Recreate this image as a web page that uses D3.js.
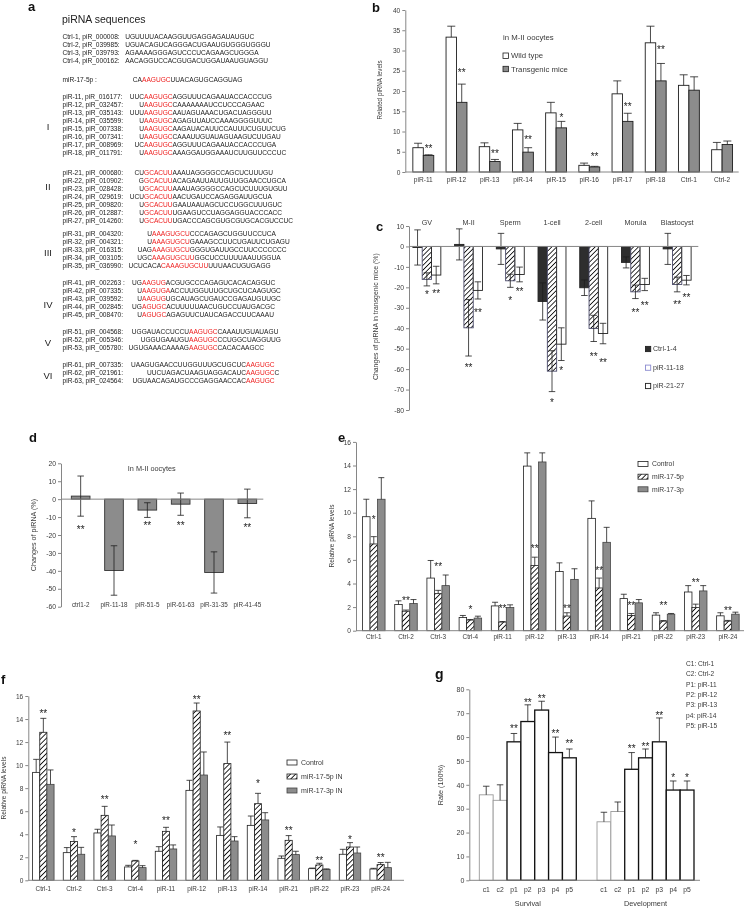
<!DOCTYPE html>
<html><head><meta charset="utf-8">
<script src="https://cdn.jsdelivr.net/npm/d3@7"></script>
<style>body{margin:0;background:#fff}svg{display:block;will-change:transform}</style>
</head><body>
<script>
// ================= DATA =================
// Panel a: piRNA sequences
const aCtrlRows = [
  ["Ctrl-1, piR_000008:", "UGUUUUACAAGGUUGAGGAGAUAUGUC"],
  ["Ctrl-2, piR_039985:", "UGUACAGUCAGGGACUGAAUGUGGGUGGGU"],
  ["Ctrl-3, piR_039793:", "AGAAAAGGGAGUCCCUCAGAAGCUGGGA"],
  ["Ctrl-4, piR_000162:", "AACAGGUCCACGUGACUGGAUAAUGUAGGU"]
];
const aMirRow = ["miR-17-5p :", "CA", "AAGUGC", "UUACAGUGCAGGUAG"];
const aGroupNames = ["I", "II", "III", "IV", "V", "VI"];
const aGroupRows = [
  [["piR-11, piR_016177:", "UUC", "AAGUGC", "AGGUUUCAGAAUACCACCCUG"],
   ["piR-12, piR_032457:", "U", "AAGUGC", "CAAAAAAAUCCUCCCAGAAC"],
   ["piR-13, piR_035143:", "UUU", "AAGUGC", "AAUAGUAAACUGACUAGGGUU"],
   ["piR-14, piR_035599:", "U", "AAGUGC", "AGAGUUAUCCAAAGGGGUUUC"],
   ["piR-15, piR_007338:", "U", "AAGUGC", "AAGAUACAUUCCAUUUCUGUUCUG"],
   ["piR-16, piR_007341:", "U", "AAGUGC", "CAAAUUGUAUAGUAAGUCUUGAU"],
   ["piR-17, piR_008969:", "UC", "AAGUGC", "AGGUUUCAGAAUACCACCCUGA"],
   ["piR-18, piR_011791:", "U", "AAGUGC", "AAAGGAUGGAAAUCUUGUUCCCUC"]],
  [["piR-21, piR_000680:", "CU", "GCACUU", "AAAUAGGGGCCAGCUCUUUGU"],
   ["piR-22, piR_010902:", "G", "GCACUU", "ACAGAAUUAUUGUUGGAACCUGCA"],
   ["piR-23, piR_028428:", "U", "GCACUU", "AAAUAGGGGCCAGCUCUUUGUGUU"],
   ["piR-24, piR_029619:", "UCU", "GCACUU", "AACUGAUCCAGAGGAUUGCUA"],
   ["piR-25, piR_009820:", "U", "GCACUU", "GAAUAAUAGCUCCUGGCUUUGUC"],
   ["piR-26, piR_012887:", "U", "GCACUU", "UGAAGUCCUAGGAGGUACCCACC"],
   ["piR-27, piR_014260:", "U", "GCACUU", "UGACCCAGCGUGCGUGCACGUCCUC"]],
  [["piR-31, piR_004320:", "U", "AAAGUGCU", "CCCAGAGCUGGUUCCUCA"],
   ["piR-32, piR_004321:", "U", "AAAGUGCU", "GAAAGCCUUCUGAUUCUGAGU"],
   ["piR-33, piR_016315:", "UAG", "AAAGUGCU", "GGGUGAUUGCCUUCCCCCCC"],
   ["piR-34, piR_003105:", "UGC", "AAAGUGCUU", "GGCUCCUUUUAAUUGGUA"],
   ["piR-35, piR_036990:", "UCUCACA", "CAAAGUGCUU", "UUUAACUGUGAGG"]],
  [["piR-41, piR_002263 :", "UG", "AAGUG", "ACGUGCCCAGAGUCACACAGGUC"],
   ["piR-42, piR_007335:", "U", "AAGUGA", "ACCUUGGUUUGCUGCUCAAGUGC"],
   ["piR-43, piR_039592:", "U", "AAGUG", "UGCAUAGCUGAUCCGAGAUGUUGC"],
   ["piR-44, piR_002845:", "UG", "AGUGC", "ACUUUUUAACUGUCCUAUGACGC"],
   ["piR-45, piR_008470:", "U", "AGUGC", "AGAGUUCUAUCAGACCUUCAAAU"]],
  [["piR-51, piR_004568:", "UGGAUACCUCCU", "AAGUGC", "CAAAUUGUAUAGU"],
   ["piR-52, piR_005346:", "UGGUGAAUGU", "AAGUGC", "CCUGGCUAGGUUG"],
   ["piR-53, piR_005780:", "UGUGAAACAAAAG", "AAGUGC", "CACACAAGCC"]],
  [["piR-61, piR_007335:", "UAAGUGAACCUUGGUUUGCUGCUC", "AAGUGC", ""],
   ["piR-62, piR_021961:", "UUCUAGACUAAGUAGGACAUC", "AAGUGC", "C"],
   ["piR-63, piR_024564:", "UGUAACAGAUGCCCGAGGAACCAC", "AAGUGC", ""]]
];

// Panel b
const bCats = ["piR-11","piR-12","piR-13","piR-14","piR-15","piR-16","piR-17","piR-18","Ctrl-1","Ctrl-2"];
const bWild = [6.0, 33.3, 6.25, 10.4, 14.6, 1.65, 19.3, 31.9, 21.4, 5.5];
const bWildErr = [1.1, 2.7, 0.95, 1.6, 2.6, 0.55, 3.2, 4.1, 2.6, 1.8];
const bTrans = [4.1, 17.2, 2.6, 4.9, 10.9, 1.25, 12.5, 22.5, 20.2, 6.8];
const bTransErr = [0.15, 4.5, 0.5, 1.1, 1.6, 0.15, 2.0, 4.3, 3.3, 0.85];
const bStars = ["**","**","**","**","*","**","**","**","",""];
const bStarY = [6.3, 25.2, 5.2, 8.5, 14.1, 4.5, 16.7, 30.9, null, null];
const bTicks = [0,5,10,15,20,25,30,35,40];

// Panel c
const cStages = ["GV","M-II","Sperm","1-cell","2-cell","Morula","Blastocyst"];
const cCtrl = [-0.5, 1.0, -1.2, -26.9, -20.2, -7.8, -1.2];
const cCtrlErr = [8.6, 7.6, 7.6, 9.1, 3.8, 2.7, 7.6];
const cPi11 = [-16.1, -39.8, -16.8, -61, -40.1, -22.2, -18.6];
const cPi11Err = [3.2, 13.8, 3.2, 10, 6.4, 3.3, 3.6];
const cPi21 = [-14, -21.5, -13.7, -47.8, -42.6, -18.6, -16.5];
const cPi21Err = [4.3, 4.2, 3.6, 8, 5, 3, 2.3];
const cStar11 = ["*","**","*","*","**","**","**"];
const cStar11Y = [-22.2, -58, -25.4, -75.2, -52.8, -31.1, -27.4];
const cStar21 = ["**","**","**","*","**","**","**"];
const cStar21Y = [-21.8, -31.1, -21, -59.4, -55.6, -27.6, -23.8];
const cSeries = ["Ctrl-1-4","piR-11-18","piR-21-27"];
const cTicks = [10,0,-10,-20,-30,-40,-50,-60,-70,-80];

// Panel d
const dCats = ["ctrl1-2","piR-11-18","piR-51-5","piR-61-63","piR-31-35","piR-41-45"];
const dVals = [1.7, -39.8, -6.1, -2.8, -40.9, -2.4];
const dErr = [11.2, 13.8, 4.1, 6.2, 11.5, 8];
const dStars = ["**","","**","**","","**"];
const dStarY = [-15.8, null, -13.2, -13.2, null, -14.5];
const dTicks = [20,10,0,-10,-20,-30,-40,-50,-60];

// Panel e
const eCats = ["Ctrl-1","Ctrl-2","Ctrl-3","Ctrl-4","piR-11","piR-12","piR-13","piR-14","piR-21","piR-22","piR-23","piR-24"];
const eSeries = ["Control","miR-17-5p","miR-17-3p"];
const eControl = [9.66, 2.22, 4.46, 1.12, 2.1, 13.95, 5.02, 9.52, 2.72, 1.32, 3.28, 1.26];
const eControlErr = [1.48, 0.31, 1.49, 0.17, 0.31, 1.12, 0.73, 1.48, 0.37, 0.2, 0.54, 0.26];
const e5p = [7.35, 1.65, 3.14, 0.9, 0.73, 5.53, 1.24, 3.62, 1.29, 0.81, 1.96, 0.81];
const e5pErr = [0.62, 0.1, 0.28, 0.05, 0.05, 0.7, 0.28, 0.84, 0.17, 0.05, 0.29, 0.06];
const e3p = [11.14, 2.3, 3.82, 1.07, 1.96, 14.3, 4.35, 7.49, 2.36, 1.4, 3.37, 1.4];
const e3pErr = [1.83, 0.34, 0.9, 0.16, 0.23, 0.77, 0.9, 1.27, 0.28, 0.06, 0.45, 0.17];
const eStars = ["*","**","**","*","**","**","**","**","**","**","**","**"];
const eStarY = [9.6, 2.72, 5.6, 2.0, 2.08, 7.13, 2.1, 5.3, 2.3, 2.3, 4.32, 1.88];
const eTicks = [0,2,4,6,8,10,12,14,16];

// Panel f
const fSeries = ["Control","miR-17-5p IN","miR-17-3p IN"];
const fControl = [9.37, 2.4, 4.11, 1.16, 2.52, 7.81, 3.9, 4.77, 1.91, 1.01, 2.26, 0.98];
const fControlErr = [1.13, 0.44, 0.32, 0.14, 0.4, 0.87, 0.73, 0.81, 0.2, 0.05, 0.43, 0.06];
const f5p = [12.85, 3.36, 5.64, 1.68, 4.25, 14.7, 10.13, 6.65, 3.47, 1.33, 2.89, 1.36];
const f5pErr = [1.21, 0.43, 0.78, 0.05, 0.35, 0.69, 1.87, 0.9, 0.41, 0.15, 0.38, 0.18];
const f3p = [8.33, 2.26, 3.85, 1.1, 2.72, 9.14, 3.41, 5.24, 2.23, 0.95, 2.37, 1.1];
const f3pErr = [1.25, 0.6, 0.95, 0.17, 0.35, 2.0, 0.38, 0.63, 0.29, 0.04, 0.52, 0.46];
const fStars = ["**","*","**","*","**","**","**","*","**","**","*","**"];
const fStarY = [14.7, 4.37, 7.18, 3.33, 5.38, 15.9, 12.76, 8.62, 4.51, 1.91, 3.7, 2.2];

// Panel g
const gGroups = ["Survival","Development"];
const gCats = ["c1","c2","p1","p2","p3","p4","p5"];
const gSurvival = [35.8, 33.5, 58, 66.5, 71.3, 53.5, 51.3];
const gSurvivalErr = [3.6, 6.5, 3.5, 7, 3.7, 6.5, 3.7];
const gDevelopment = [24.5, 28.8, 46.5, 51.3, 58, 37.8, 37.8];
const gDevelopmentErr = [4, 4, 7, 3.7, 10, 3.8, 3.8];
const gStarsS = ["","","**","**","**","**","**"];
const gStarYS = [null, null, 64.4, 75.6, 77, 62.6, 58.4];
const gStarsD = ["","","**","**","**","*","*"];
const gStarYD = [null, null, 56, 57, 70, 44.1, 44.1];
const gLegend = ["C1: Ctrl-1","C2: Ctrl-2","P1: piR-11","P2: piR-12","P3: piR-13","p4: piR-14","P5: piR-15"];
const gTicks = [0,10,20,30,40,50,60,70,80];

// ================= DRAWING =================
const W = 744, H = 909;
const TXT = "#3a3a3a", AX = "#868686", BAR = "#1e1e1e", GRAY = "#8c8c8c";
const svg = d3.select("body").append("svg").attr("width", W).attr("height", H)
  .attr("font-family", "'Liberation Sans', Arial, sans-serif");
svg.append("rect").attr("width", W).attr("height", H).attr("fill", "#fff");
const defs = svg.append("defs");
function hatch(id, size, sw) {
  const p = defs.append("pattern").attr("id", id).attr("patternUnits", "userSpaceOnUse")
    .attr("width", size).attr("height", size).attr("patternTransform", "rotate(45)");
  p.append("rect").attr("width", size).attr("height", size).attr("fill", "#fff");
  p.append("line").attr("x1", 0).attr("y1", 0).attr("x2", 0).attr("y2", size)
    .attr("stroke", "#000").attr("stroke-width", sw);
}
hatch("hatchC", 3.4, 1.6);
hatch("hatchE", 3.6, 1.7);

function panelLetter(x, y, t) {
  svg.append("text").attr("x", x).attr("y", y).attr("font-size", 13).attr("font-weight", "bold")
    .attr("fill", "#111").text(t);
}
function yAxis(y, x, ticks, fs) {
  const ax = svg.append("g").attr("transform", `translate(${x},0)`)
    .call(d3.axisLeft(y).tickValues(ticks).tickSize(3).tickSizeOuter(0).tickPadding(2).tickFormat(d => String(d)));
  ax.attr("font-family", null).attr("font-size", fs);
  ax.select(".domain").attr("stroke", AX);
  ax.selectAll(".tick line").attr("stroke", AX);
  ax.selectAll(".tick text").attr("fill", TXT);
  return ax;
}
function hline(x1, x2, y) {
  svg.append("line").attr("x1", x1).attr("x2", x2).attr("y1", y).attr("y2", y).attr("stroke", AX).attr("stroke-width", 1);
}
function yLabel(x, y, t, fs) {
  svg.append("text").attr("transform", `translate(${x},${y}) rotate(-90)`).attr("text-anchor", "middle")
    .attr("dy", "0.35em").attr("font-size", fs).attr("fill", TXT).text(t);
}
function label(x, y, t, fs, anchor) {
  return svg.append("text").attr("x", x).attr("y", y).attr("text-anchor", anchor || "middle")
    .attr("dy", "0.35em").attr("font-size", fs).attr("fill", TXT).text(t);
}
function errUp(g, cx, y, v, e, cap) {
  g.append("line").attr("x1", cx).attr("x2", cx).attr("y1", y(v)).attr("y2", y(v + e)).attr("stroke", BAR).attr("stroke-width", 0.8);
  g.append("line").attr("x1", cx - cap / 2).attr("x2", cx + cap / 2).attr("y1", y(v + e)).attr("y2", y(v + e)).attr("stroke", BAR).attr("stroke-width", 0.8);
}
function errBoth(g, cx, y, v, e, cap) {
  g.append("line").attr("x1", cx).attr("x2", cx).attr("y1", y(v - e)).attr("y2", y(v + e)).attr("stroke", BAR).attr("stroke-width", 0.8);
  [v - e, v + e].forEach(t => g.append("line").attr("x1", cx - cap / 2).attr("x2", cx + cap / 2)
    .attr("y1", y(t)).attr("y2", y(t)).attr("stroke", BAR).attr("stroke-width", 0.8));
}
function star(g, cx, y, v, s) {
  if (!s) return;
  g.append("text").attr("x", cx).attr("y", y(v)).attr("dy", "0.58em").attr("text-anchor", "middle")
    .attr("font-size", 10).attr("fill", "#222").text(s);
}
function barRect(g, x, w, y, v, fill, stroke, sw) {
  const y0 = y(0), yv = y(v);
  return g.append("rect").attr("x", x).attr("width", w).attr("y", Math.min(y0, yv))
    .attr("height", Math.abs(y0 - yv)).attr("fill", fill).attr("stroke", stroke).attr("stroke-width", sw || 0.9);
}

// ---------- Panel a ----------
panelLetter(28, 10.5, "a");
svg.append("text").attr("x", 62).attr("y", 22.5).attr("font-size", 10.5).attr("fill", "#222").text("piRNA sequences");
const ga = svg.append("g").attr("font-size", 6.6).attr("fill", "#222");
const tmp = ga.append("text").attr("x", -100).attr("y", -100);
function measure(s) { tmp.text(s); return s ? tmp.node().getComputedTextLength() : 0; }
const aX = 62.5, aGap = 5.5;
function aRow(yc, lab, pre, motif, post, alignX) {
  const y = yc + 2.4;
  ga.append("text").attr("x", aX).attr("y", y).text(lab);
  let sx = aX + measure(lab) + aGap;
  if (alignX != null) sx = Math.max(sx, alignX - measure(pre));
  const t = ga.append("text").attr("x", sx).attr("y", y);
  t.append("tspan").text(pre);
  if (motif) t.append("tspan").attr("fill", "#ee1c1c").text(motif);
  if (post) t.append("tspan").text(post);
}
aCtrlRows.forEach((r, i) => aRow(36.5 + 8 * i, r[0], r[1], "", "", null));
aRow(79.5, aMirRow[0], aMirRow[1], aMirRow[2], aMirRow[3], 142);
const aGroupStart = [96.7, 172.7, 234, 282.5, 331.5, 364.3];
const aAlign = [144, 144, 152, 142, 189, 246];
const aLabelRow = [3.75, 1.75, 2.3, 2.7, 1.4, 1.4];
aGroupRows.forEach((rows, gi) => {
  rows.forEach((r, i) => aRow(aGroupStart[gi] + 8 * i, r[0], r[1], r[2], r[3], aAlign[gi]));
  svg.append("text").attr("x", 48).attr("y", aGroupStart[gi] + aLabelRow[gi] * 8).attr("dy", "0.36em")
    .attr("text-anchor", "middle").attr("font-size", 9.5).attr("fill", "#222").text(aGroupNames[gi]);
});
tmp.remove();

// ---------- Panel b ----------
panelLetter(372, 11.7, "b");
const bx0 = d3.scaleBand().domain(bCats).range([406.7, 738.7]).paddingInner(0.37).paddingOuter(0.185);
const bx1 = d3.scaleBand().domain(["wt", "tg"]).range([0, bx0.bandwidth()]);
const by = d3.scaleLinear().domain([0, 40]).range([172, 10]);
const gb = svg.append("g");
bCats.forEach((c, i) => {
  const x = bx0(c), w = bx1.bandwidth();
  barRect(gb, x + bx1("wt"), w, by, bWild[i], "#fff", BAR);
  barRect(gb, x + bx1("tg"), w, by, bTrans[i], GRAY, BAR);
  errUp(gb, x + bx1("wt") + w / 2, by, bWild[i], bWildErr[i], 8);
  errUp(gb, x + bx1("tg") + w / 2, by, bTrans[i], bTransErr[i], 8);
  if (bStarY[i] != null) star(gb, x + bx1("tg") + w / 2, by, bStarY[i], bStars[i]);
  label(x + bx0.bandwidth() / 2, 180, c, 6.6);
});
hline(405.3, 738.7, by(0));
yAxis(by, 405.3, bTicks, 6.6);
yLabel(380, 90, "Related piRNA levels", 6.3);
svg.append("text").attr("x", 503).attr("y", 37.3).attr("dy", "0.35em").attr("font-size", 7.8).attr("fill", TXT).text("in M-II oocytes");
[["Wild type", "#fff", 55.7], ["Transgenic mice", GRAY, 69]].forEach(d => {
  svg.append("rect").attr("x", 503).attr("y", d[2] - 2.7).attr("width", 5.4).attr("height", 5.4).attr("fill", d[1]).attr("stroke", BAR).attr("stroke-width", 0.8);
  label(511, d[2], d[0], 7.8, "start");
});

// ---------- Panel c ----------
panelLetter(376, 230.5, "c");
const cx0 = d3.scaleBand().domain(cStages).range([406, 698]).paddingInner(0.33).paddingOuter(0.165);
const cx1 = d3.scaleBand().domain(cSeries).range([0, cx0.bandwidth()]);
const cy = d3.scaleLinear().domain([-80, 10]).range([410, 226]);
const gc = svg.append("g");
const cFill = ["#2e2e2e", "url(#hatchC)", "#fff"];
const cStroke = ["#222", "#4a4a6a", "#222"];
const cVals = [cCtrl, cPi11, cPi21], cErrs = [cCtrlErr, cPi11Err, cPi21Err];
cStages.forEach((s, i) => {
  cSeries.forEach((ser, k) => {
    const x = cx0(s) + cx1(ser), w = cx1.bandwidth();
    barRect(gc, x, w, cy, cVals[k][i], cFill[k], cStroke[k], 0.9);
  });
  cSeries.forEach((ser, k) => {
    const cxm = cx0(s) + cx1(ser) + cx1.bandwidth() / 2;
    errBoth(gc, cxm, cy, cVals[k][i], cErrs[k][i], 6.5);
  });
  star(gc, cx0(s) + cx1(cSeries[1]) + cx1.bandwidth() / 2, cy, cStar11Y[i], cStar11[i]);
  star(gc, cx0(s) + cx1(cSeries[2]) + cx1.bandwidth() / 2, cy, cStar21Y[i], cStar21[i]);
  label(cx0(s) + cx0.bandwidth() / 2, 222.7, s, 7.2);
});
hline(409, 698.3, cy(0));
yAxis(cy, 409, cTicks, 6.8);
yLabel(376, 316.7, "Changes of piRNA in transgenic mice (%)", 6.9);
const cLegStroke = ["#222", "#8a8ad0", "#222"];
cSeries.forEach((ser, k) => {
  const yy = [349, 367.7, 386][k];
  svg.append("rect").attr("x", 645.5).attr("y", yy - 2.6).attr("width", 5.2).attr("height", 5.2)
    .attr("fill", k === 0 ? "#2e2e2e" : "#fff").attr("stroke", cLegStroke[k]).attr("stroke-width", 0.9);
  label(653, yy, ser, 7.1, "start");
});

// ---------- Panel d ----------
panelLetter(29, 442, "d");
const dx = d3.scaleBand().domain(dCats).range([64, 264]).paddingInner(0.44).paddingOuter(0.22);
const dyS = d3.scaleLinear().domain([-60, 20]).range([606.7, 463.3]);
const gd = svg.append("g");
dCats.forEach((c, i) => {
  barRect(gd, dx(c), dx.bandwidth(), dyS, dVals[i], GRAY, "#333", 0.9);
  errBoth(gd, dx(c) + dx.bandwidth() / 2, dyS, dVals[i], dErr[i], 6.5);
  if (dStarY[i] != null) star(gd, dx(c) + dx.bandwidth() / 2, dyS, dStarY[i], dStars[i]);
  label(dx(c) + dx.bandwidth() / 2, 604.3, c, 6.3);
});
hline(61, 263.3, dyS(0));
yAxis(dyS, 61, dTicks, 6.8);
yLabel(33.3, 535, "Changes of piRNA (%)", 7.2);
label(151.7, 468.3, "In M-II oocytes", 7.3);

// ---------- grouped 3-series helper (panels e, f) ----------
function triple(x0, y, series, vals, errs, stars, starY, legendFs, legendX, legendY) {
  const x1 = d3.scaleBand().domain(series).range([0, x0.bandwidth()]);
  const g = svg.append("g");
  const fills = ["#fff", "url(#hatchE)", GRAY];
  const strokes = [BAR, BAR, "#444"];
  x0.domain().forEach((c, i) => {
    series.forEach((s, k) => barRect(g, x0(c) + x1(s), x1.bandwidth(), y, vals[k][i], fills[k], strokes[k], 0.8));
    series.forEach((s, k) => errUp(g, x0(c) + x1(s) + x1.bandwidth() / 2, y, vals[k][i], errs[k][i], 6));
    star(g, x0(c) + x1(series[1]) + x1.bandwidth() / 2, y, starY[i], stars[i]);
  });
  series.forEach((s, k) => {
    const yy = legendY[k];
    svg.append("rect").attr("x", legendX).attr("y", yy - 2.5).attr("width", 10).attr("height", 5)
      .attr("fill", fills[k]).attr("stroke", strokes[k]).attr("stroke-width", 0.8);
    label(legendX + 14, yy, s, legendFs, "start");
  });
}

// ---------- Panel e ----------
panelLetter(338, 441.7, "e");
const ex0 = d3.scaleBand().domain(eCats).range([357.7, 744]).paddingInner(0.3).paddingOuter(0.15);
const ey = d3.scaleLinear().domain([0, 16]).range([630.7, 441.9]);
triple(ex0, ey, eSeries, [eControl, e5p, e3p], [eControlErr, e5pErr, e3pErr], eStars, eStarY, 6.8, 638, [464, 476.7, 489.3]);
eCats.forEach(c => label(ex0(c) + ex0.bandwidth() / 2, 636.7, c, 6.4));
hline(356, 744, ey(0));
yAxis(ey, 356, eTicks, 6.6);
yLabel(332, 536, "Relative piRNA levels", 6.6);

// ---------- Panel f ----------
panelLetter(1, 684, "f");
const fx0 = d3.scaleBand().domain(eCats).range([28, 396]).paddingInner(0.3).paddingOuter(0.15);
const fy = d3.scaleLinear().domain([0, 16]).range([880.3, 696]);
triple(fx0, fy, fSeries, [fControl, f5p, f3p], [fControlErr, f5pErr, f3pErr], fStars, fStarY, 7.0, 287, [762.5, 776.5, 790.5]);
eCats.forEach(c => label(fx0(c) + fx0.bandwidth() / 2, 888.3, c, 6.4));
hline(28.3, 404, fy(0));
yAxis(fy, 28.3, eTicks, 6.6);
yLabel(3.8, 788, "Relative piRNA levels", 6.6);

// ---------- Panel g ----------
svg.append("text").attr("x", 435).attr("y", 679).attr("font-size", 14).attr("font-weight", "bold").attr("fill", "#111").text("g");
const gx0 = d3.scaleBand().domain(gGroups).range([469.3, 704]).paddingInner(0.176).paddingOuter(0.085);
const gx1 = d3.scaleBand().domain(gCats).range([0, gx0.bandwidth()]);
const gy = d3.scaleLinear().domain([0, 80]).range([880.3, 689.3]);
const gg = svg.append("g");
const gVals = [gSurvival, gDevelopment], gErrs = [gSurvivalErr, gDevelopmentErr];
const gStars = [gStarsS, gStarsD], gStarY = [gStarYS, gStarYD];
gGroups.forEach((grp, j) => {
  gCats.forEach((c, i) => {
    const isCtrl = c.startsWith("c");
    barRect(gg, gx0(grp) + gx1(c), gx1.bandwidth(), gy, gVals[j][i], "#fff", isCtrl ? "#9a9a9a" : "#111", isCtrl ? 0.9 : 1.3);
  });
  gCats.forEach((c, i) => {
    const cxm = gx0(grp) + gx1(c) + gx1.bandwidth() / 2;
    errUp(gg, cxm, gy, gVals[j][i], gErrs[j][i], 6.5);
    if (gStarY[j][i] != null) star(gg, cxm, gy, gStarY[j][i], gStars[j][i]);
    label(cxm, 889.3, c, 6.8);
  });
  label(gx0(grp) + gx0.bandwidth() / 2, 903.3, grp, 7.3);
});
hline(469.3, 700, gy(0));
yAxis(gy, 469.3, gTicks, 7);
yLabel(440, 785, "Rate (100%)", 7.2);
gLegend.forEach((t, i) => label(686, 663.3 + 10.45 * i, t, 6.6, "start"));
</script>
</body></html>
